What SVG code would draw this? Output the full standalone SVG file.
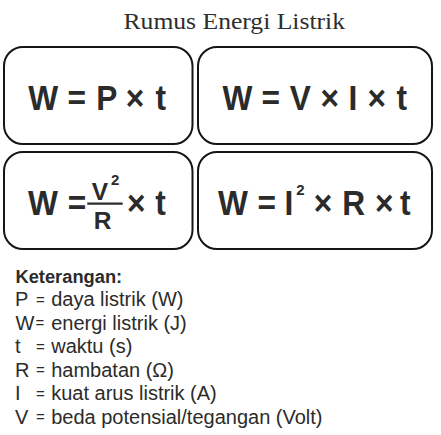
<svg xmlns="http://www.w3.org/2000/svg" width="441" height="435" viewBox="0 0 441 435">
  <style>
    .box { fill: #ffffff; stroke: #151515; stroke-width: 2; }
    .f { font-family: "Liberation Sans", Arial, sans-serif; font-weight: bold; font-size: 36px; fill: #2b2b2b; text-anchor: middle; }
    .fr { font-family: "Liberation Sans", Arial, sans-serif; font-weight: bold; font-size: 24.5px; fill: #2b2b2b; text-anchor: middle; }
    .sup { font-family: "Liberation Sans", Arial, sans-serif; font-weight: bold; font-size: 15px; fill: #2b2b2b; text-anchor: middle; }
    .title { font-family: "Liberation Serif", "Times New Roman", serif; font-size: 24px; fill: #2e2e2e; }
    .leg { font-family: "Liberation Sans", Arial, sans-serif; font-size: 20px; fill: #2b2b2b; }
    .eq { font-size: 15px; }
    .legb { font-family: "Liberation Sans", Arial, sans-serif; font-size: 18.3px; font-weight: bold; fill: #2b2b2b; }
  </style>
  <rect width="441" height="435" fill="#ffffff"/>

  <g id="title">
    <text class="title" x="123.5" y="28.5" textLength="221.5" lengthAdjust="spacingAndGlyphs">Rumus Energi Listrik</text>
  </g>

  <g id="box1">
    <rect class="box" x="4" y="47" width="188.5" height="97" rx="19"/>
    <g transform="scale(0.88,1)">
      <text class="f" y="110" x="49.2 68 87.2 104 121.3 137 153.4 168 182.8">W = P × t</text>
    </g>
  </g>

  <g id="box2">
    <rect class="box" x="198" y="47" width="234" height="97" rx="19"/>
    <g transform="scale(0.88,1)">
      <text class="f" y="110" x="269.9 289 307.6 324 341.3 358 374.7 388 400.9 414 428.1 442 456.5">W = V × I × t</text>
    </g>
  </g>

  <g id="box3">
    <rect class="box" x="4" y="152" width="188.5" height="97" rx="19"/>
    <g transform="scale(0.88,1)">
      <text class="f" y="215.5" x="48.9 68 87.5">W =</text>
      <text class="f" y="215.5" x="154.9 168 182.4">× t</text>
    </g>
    <text class="fr" x="100" y="200">V</text>
    <text class="sup" x="115.2" y="184.5">2</text>
    <text class="fr" x="102.7" y="229">R</text>
    <line x1="87.3" y1="203.7" x2="122.7" y2="203.7" stroke="#2b2b2b" stroke-width="2.2"/>
  </g>

  <g id="box4">
    <rect class="box" x="198" y="152" width="234" height="97" rx="19"/>
    <g transform="scale(0.88,1)">
      <text class="f" y="215.5" x="264.8 284 303.1 316 328.2">W = I</text>
      <text class="f" y="215.5" x="367 384 401.9 420 436.6 449 460.6">× R × t</text>
    </g>
    <text class="sup" x="300.5" y="195">2</text>
  </g>

  <g id="legend">
    <text class="legb" x="15.5" y="282.5">Keterangan:</text>
    <text class="leg" y="306"><tspan x="15 29">P </tspan><tspan class="eq" x="36 45" dy="-1.5">= </tspan><tspan x="51.2" dy="1.5">daya listrik (W)</tspan></text>
    <text class="leg" y="329.5"><tspan x="15.5">W</tspan><tspan class="eq" x="35.5 45" dy="-1.5">= </tspan><tspan x="51.2" dy="1.5">energi listrik (J)</tspan></text>
    <text class="leg" y="353"><tspan x="15 24">t </tspan><tspan class="eq" x="36 45" dy="-1.5">= </tspan><tspan x="51.2" dy="1.5">waktu (s)</tspan></text>
    <text class="leg" y="376.5"><tspan x="15 29">R </tspan><tspan class="eq" x="36 45" dy="-1.5">= </tspan><tspan x="51.2" dy="1.5">hambatan (Ω)</tspan></text>
    <text class="leg" y="400"><tspan x="15 23">I </tspan><tspan class="eq" x="36 45" dy="-1.5">= </tspan><tspan x="51.2" dy="1.5">kuat arus listrik (A)</tspan></text>
    <text class="leg" y="423.5"><tspan x="15 29">V </tspan><tspan class="eq" x="36 45" dy="-1.5">= </tspan><tspan x="51.2" dy="1.5">beda potensial/tegangan (Volt)</tspan></text>
  </g>
</svg>
